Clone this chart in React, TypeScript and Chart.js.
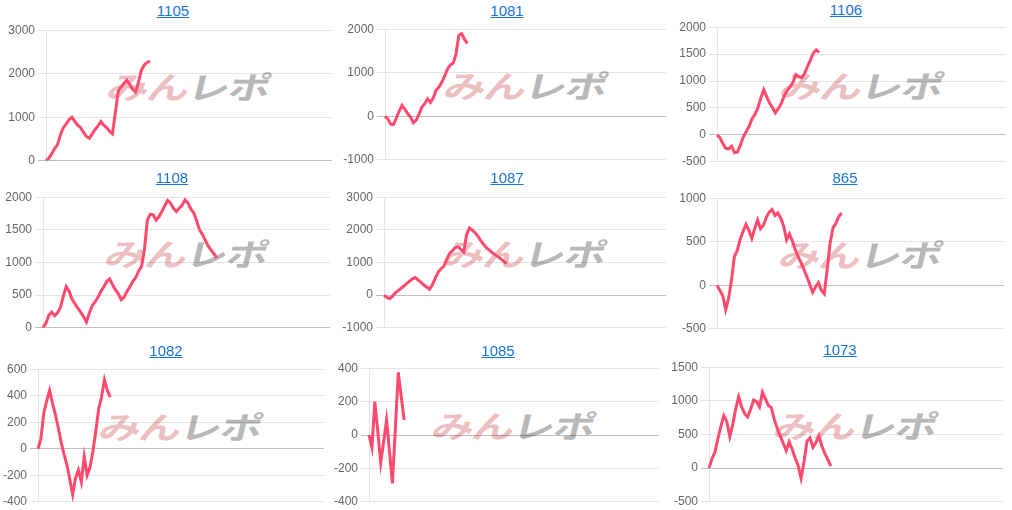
import React, { useEffect, useRef } from "react";
import { Chart, registerables } from "chart.js";

Chart.register(...registerables);

const SLOTS = Array.from({ length: 100 }, (_, i) => String(i + 1));

const TITLES = ["1105", "1081", "1106", "1108", "1087", "865", "1082", "1085", "1073"];

const v1105 = [0, 60, 160, 280, 370, 600, 760, 850, 950, 1000, 900, 820, 760, 650, 560, 520, 620, 720, 800, 900, 820, 760, 680, 620, 1100, 1600, 1700, 1780, 1850, 1750, 1640, 1580, 1800, 2080, 2200, 2260, 2290];
const v1081 = [0, -60, -180, -190, -40, 120, 250, 160, 60, -20, -150, -90, 50, 210, 290, 400, 320, 420, 600, 670, 780, 920, 1080, 1180, 1220, 1420, 1860, 1900, 1770, 1670];
const v1106 = [0, -50, -160, -250, -260, -210, -330, -320, -190, -40, 60, 160, 300, 380, 500, 680, 840, 710, 590, 510, 410, 490, 580, 720, 820, 890, 970, 1120, 1080, 1060, 1140, 1270, 1390, 1520, 1580, 1530];
const v1108 = [0, 70, 190, 240, 185, 230, 310, 480, 630, 560, 440, 370, 300, 240, 170, 90, 230, 340, 400, 470, 560, 630, 710, 750, 660, 580, 520, 430, 470, 560, 630, 710, 770, 870, 940, 1200, 1650, 1740, 1730, 1650, 1700, 1780, 1870, 1950, 1910, 1830, 1780, 1830, 1880, 1960, 1910, 1820, 1760, 1640, 1500, 1430, 1340, 1250, 1190, 1130, 1070];
const v1087 = [0, -70, -110, -30, 70, 140, 210, 280, 360, 430, 500, 540, 460, 390, 310, 250, 180, 320, 520, 700, 810, 880, 1090, 1270, 1360, 1460, 1480, 1400, 1320, 1850, 2060, 1990, 1910, 1800, 1670, 1550, 1450, 1380, 1300, 1240, 1180, 1110, 1040, 970];
const v865 = [0, -60, -120, -280, -150, 60, 330, 400, 530, 620, 700, 630, 540, 650, 750, 650, 690, 780, 840, 870, 800, 830, 770, 680, 520, 590, 510, 410, 330, 260, 180, 100, 10, -80, -20, 30, -60, -100, 180, 480, 660, 710, 790, 830];
const v1082 = [0, 75, 270, 360, 440, 345, 260, 160, 50, -40, -120, -230, -345, -220, -160, -250, -60, -200, -140, -20, 130, 300, 390, 520, 440, 390];
const v1085 = [0, -75, 200, 20, -165, -40, 90, -100, -290, 40, 375, 230, 90];
const v1073 = [0, 140, 240, 440, 620, 780, 690, 470, 650, 880, 1060, 910, 810, 760, 870, 1010, 990, 910, 1130, 1030, 930, 900, 720, 590, 480, 370, 260, 390, 280, 150, 40, -150, 100, 400, 450, 310, 380, 480, 330, 220, 130, 30];

const SERIES = [v1105, v1081, v1106, v1108, v1087, v865, v1082, v1085, v1073];

const Y_MIN = [0, -1000, -500, 0, -1000, -500, -400, -400, -500];
const Y_MAX = [3000, 2000, 2000, 2000, 3000, 1000, 600, 400, 1500];
const Y_STEP = [1000, 1000, 500, 500, 1000, 500, 200, 200, 500];

// layout: canvas left, plot left, plot right, plot top, plot bottom, title centre x, title centre y
const LAYOUT = [
  [0, 46, 332, 30, 161, 173, 11],
  [337, 385, 666, 29, 160, 507, 11],
  [674, 717, 1006, 27, 162, 846, 10],
  [0, 43, 330, 197, 328, 172, 178],
  [337, 384, 666, 197, 328, 507, 178],
  [674, 717, 1004, 198, 329, 845, 178],
  [-8, 38, 324, 369, 502, 166, 351],
  [320, 369, 659, 368, 502, 498, 351],
  [660, 709, 1003, 367, 502, 840, 350],
];

const LINE_COLOR = "#ff4a6e";
const PAD_V = 10;
const PAD_R = 2;

function Panel({ idx }: { idx: number }) {
  const ref = useRef<HTMLCanvasElement | null>(null);
  const [cl, pl, pr, pt, pb, tcx, tcy] = LAYOUT[idx];
  const w = pr - cl + PAD_R;
  const h = pb - pt + PAD_V * 2;
  const axisW = pl - cl;

  useEffect(() => {
    if (!ref.current) return;
    const chart = new Chart(ref.current, {
      type: "line",
      data: {
        labels: SLOTS,
        datasets: [
          {
            data: SERIES[idx],
            borderColor: LINE_COLOR,
            backgroundColor: LINE_COLOR,
            borderWidth: 3,
            pointRadius: 0,
            tension: 0,
            fill: false,
          },
        ],
      },
      options: {
        responsive: false,
        animation: false,
        devicePixelRatio: 1,
        layout: { padding: { top: PAD_V, bottom: PAD_V, left: 0, right: PAD_R } },
        plugins: { legend: { display: false }, tooltip: { enabled: false }, title: { display: false } },
        scales: {
          x: { display: false },
          y: {
            min: Y_MIN[idx],
            max: Y_MAX[idx],
            afterFit: (scale: any) => {
              scale.width = axisW;
            },
            ticks: {
              stepSize: Y_STEP[idx],
              color: "#666",
              padding: 3,
              font: { family: "'Liberation Sans', Arial, sans-serif", size: 12 },
              callback: (v: any) => String(v),
            },
            grid: {
              color: (c: any) => (c.tick && c.tick.value === 0 ? "rgba(0,0,0,0.25)" : "rgba(0,0,0,0.1)"),
              tickLength: 8,
              lineWidth: 1,
            },
            border: { display: true, color: "rgba(0,0,0,0.1)" },
          },
        },
      },
    });
    return () => chart.destroy();
  }, []);

  const wmCx = (pl + pr) / 2;
  const wmCy = (pt + pb) / 2 - 10;

  return (
    <>
      <a
        href="#"
        style={{
          position: "absolute",
          left: tcx - 60,
          top: tcy - 9,
          width: 120,
          height: 18,
          lineHeight: "18px",
          textAlign: "center",
          fontFamily: "'Liberation Sans', Arial, sans-serif",
          fontSize: 15,
          color: "#1a73d9",
          textDecoration: "underline",
        }}
      >
        {TITLES[idx]}
      </a>
      <div
        style={{
          position: "absolute",
          left: wmCx - 100,
          top: wmCy - 20,
          width: 200,
          height: 40,
          lineHeight: "40px",
          textAlign: "center",
          whiteSpace: "nowrap",
          pointerEvents: "none",
        }}
      >
        <span
          style={{
            display: "inline-block",
            fontFamily: "'Noto Sans CJK JP', sans-serif",
            fontWeight: 700,
            fontSize: 31,
            transform: "scaleX(1.35) skewX(-10deg)",
            letterSpacing: -1,
          }}
        >
          <span style={{ color: "#ecbfc1" }}>みん</span>
          <span style={{ color: "#b8b8b8" }}>レポ</span>
        </span>
      </div>
      <canvas
        ref={ref}
        width={w}
        height={h}
        style={{ position: "absolute", left: cl, top: pt - PAD_V, width: w, height: h }}
      />
    </>
  );
}

export default function App() {
  return (
    <div
      style={{
        position: "fixed",
        left: 0,
        top: 0,
        width: 1012,
        height: 510,
        overflow: "hidden",
        background: "#fff",
      }}
    >
      {TITLES.map((_, i) => (
        <Panel key={i} idx={i} />
      ))}
    </div>
  );
}
